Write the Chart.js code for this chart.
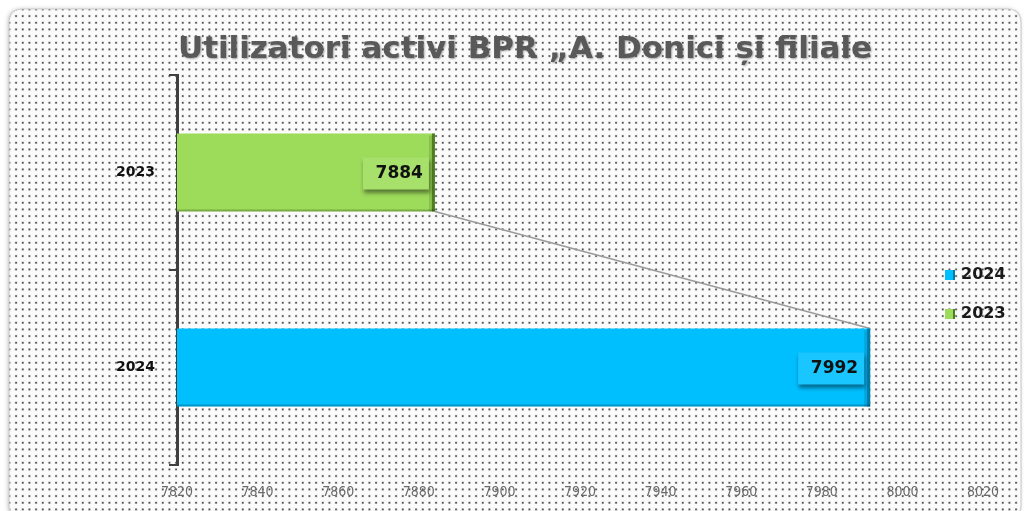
<!DOCTYPE html>
<html><head><meta charset="utf-8">
<script src="https://cdn.jsdelivr.net/npm/chart.js@4.4.1/dist/chart.umd.min.js"></script>
<style>html,body{margin:0;padding:0;background:#fff;}#wrap{width:1029px;height:511px;position:relative;}</style>
</head><body><div id="wrap"><canvas id="c" width="1029" height="511"></canvas></div>
<script>
const chartTitle = 'Utilizatori activi BPR „A. Donici și filiale';
const categories = ['2023', '2024'];
const seriesNames = ['2024', '2023'];
const values2024 = [null, 7992];
const values2023 = [7884, null];
const xTicks = [7820, 7840, 7860, 7880, 7900, 7920, 7940, 7960, 7980, 8000, 8020];
const colors = {'2024': '#00bfff', '2023': '#9ddb5b'};
const darkEdge = {'2024': '#007aa6', '2023': '#4f7d22'};
const labelBox = {'2024': '#1ac6ff', '2023': '#a8e06c'};

function makePattern(ctx){
  const t = document.createElement('canvas'); t.width = 20; t.height = 20;
  const g = t.getContext('2d');
  g.fillStyle = '#fbfbfb'; g.fillRect(0,0,20,20);
  for (let i=0;i<3;i++) for (let j=0;j<3;j++){
    const x = i*20/3+2, y = j*20/3+2;
    g.fillStyle = 'rgba(110,110,110,0.35)'; g.fillRect(x-0.5,y-0.5,2.5,2.5);
    g.fillStyle = '#4a4a4a'; g.fillRect(x,y,1.5,1.5);
  }
  return ctx.createPattern(t,'repeat');
}
function rr(ctx,x,y,w,h,r){ctx.beginPath();ctx.moveTo(x+r,y);ctx.lineTo(x+w-r,y);ctx.quadraticCurveTo(x+w,y,x+w,y+r);ctx.lineTo(x+w,y+h-r);ctx.quadraticCurveTo(x+w,y+h,x+w-r,y+h);ctx.lineTo(x+r,y+h);ctx.quadraticCurveTo(x,y+h,x,y+h-r);ctx.lineTo(x,y+r);ctx.quadraticCurveTo(x,y,x+r,y);ctx.closePath();}

const bgPlugin = {
  id:'bg',
  beforeDraw(chart){
    const ctx = chart.ctx;
    ctx.save();
    ctx.fillStyle = '#fff'; ctx.fillRect(0,0,chart.width,chart.height);
    ctx.shadowColor = 'rgba(0,0,0,0.25)'; ctx.shadowBlur = 4; ctx.shadowOffsetX = -1; ctx.shadowOffsetY = 0;
    rr(ctx,9,9,1012,510,14);
    ctx.fillStyle = makePattern(ctx); ctx.fill();
    ctx.shadowColor='transparent';
    ctx.strokeStyle = '#cfcfcf'; ctx.lineWidth = 1.2; ctx.stroke();
    // title
    ctx.font = 'bold 28px "DejaVu Sans Condensed", "DejaVu Sans", sans-serif';
    const w = ctx.measureText(chartTitle).width;
    const target = 694;
    ctx.translate(525, 50);
    ctx.scale(target / w, 1.08);
    ctx.textAlign = 'center'; ctx.textBaseline = 'middle';
    ctx.shadowColor = 'rgba(0,0,0,0.35)'; ctx.shadowBlur = 2; ctx.shadowOffsetX = 1; ctx.shadowOffsetY = 1;
    ctx.fillStyle = '#595959';
    ctx.fillText(chartTitle, 0, 0);
    ctx.restore();
  },
  beforeDatasetsDraw(chart){
    const ctx = chart.ctx;
    const m23 = chart.getDatasetMeta(1).data[0];
    const m24 = chart.getDatasetMeta(0).data[1];
    if (!m23 || !m24) return;
    ctx.save();
    ctx.strokeStyle = '#9a9a9a'; ctx.lineWidth = 1.5;
    ctx.beginPath();
    ctx.moveTo(m23.x, m23.y + m23.height/2);
    ctx.lineTo(m24.x, m24.y - m24.height/2);
    ctx.stroke();
    ctx.restore();
  },
  afterDatasetsDraw(chart){
    const ctx = chart.ctx;
    const left = chart.chartArea.left;
    chart.data.datasets.forEach((ds, di) => {
      const meta = chart.getDatasetMeta(di);
      meta.data.forEach((bar, i) => {
        const v = ds.data[i];
        if (v === null) return;
        const name = ds.label;
        const top = bar.y - bar.height/2, h = bar.height;
        ctx.save();
        ctx.fillStyle = darkEdge[name];
        ctx.fillRect(bar.x - 3, top, 3, h);
        ctx.fillStyle = 'rgba(0,0,0,0.12)';
        ctx.fillRect(bar.x - 6, top + 2, 3, h - 2);
        ctx.fillStyle = 'rgba(0,0,0,0.22)';
        ctx.fillRect(left, top + h - 2, bar.x - left, 2);
        const bw = 66, bh = 32;
        const bx = bar.x - 6 - bw, by = bar.y - bh/2 + 1;
        ctx.shadowColor = 'rgba(0,0,0,0.45)'; ctx.shadowBlur = 4; ctx.shadowOffsetX = 1; ctx.shadowOffsetY = 3;
        ctx.fillStyle = labelBox[name];
        ctx.fillRect(bx, by, bw, bh);
        ctx.shadowColor = 'transparent';
        ctx.fillStyle = '#111';
        ctx.font = 'bold 17px "DejaVu Sans", sans-serif';
        ctx.textAlign = 'right'; ctx.textBaseline = 'middle';
        ctx.fillText(String(v), bar.x - 12, bar.y + 1);
        ctx.restore();
      });
    });
    ctx.save();
    const items = [{n:'2024', y:275}, {n:'2023', y:314}];
    items.forEach(it => {
      ctx.fillStyle = colors[it.n];
      ctx.fillRect(945, it.y - 5, 10, 10);
      ctx.fillStyle = darkEdge[it.n];
      ctx.fillRect(953, it.y - 5, 2, 10);
      ctx.fillStyle = '#1a1a1a';
      ctx.font = 'bold 16px "DejaVu Sans", sans-serif';
      ctx.textAlign = 'left'; ctx.textBaseline = 'middle';
      ctx.fillText(it.n, 961, it.y);
    });
    ctx.restore();
  }
};

new Chart(document.getElementById('c'), {
  type: 'bar',
  data: {
    labels: categories,
    datasets: [
      {label: seriesNames[0], data: values2024, backgroundColor: colors['2024'], borderWidth: 0, categoryPercentage: 1, barPercentage: 0.4},
      {label: seriesNames[1], data: values2023, backgroundColor: colors['2023'], borderWidth: 0, categoryPercentage: 1, barPercentage: 0.4}
    ]
  },
  options: {
    indexAxis: 'y',
    responsive: false,
    animation: false,
    layout: {padding: {left: 0, right: 46, top: 75, bottom: 0}},
    plugins: {legend: {display: false}, title: {display: false}, tooltip: {enabled: false}},
    scales: {
      x: {
        stacked: true, min: 7820, max: 8020,
        afterBuildTicks(scale){ scale.ticks = xTicks.map(v => ({value: v})); },
        afterFit(scale){ scale.height = 46; },
        grid: {display: false, drawTicks: false},
        border: {display: false},
        ticks: {padding: 19, color: '#6a6a6a', callback: v => String(v), font: {family: '"DejaVu Sans Condensed", "DejaVu Sans", sans-serif', size: 14}}
      },
      y: {
        stacked: true,
        afterFit(scale){ scale.width = 177; },
        grid: {offset: true, drawOnChartArea: false, tickLength: 8, color: '#404040', lineWidth: 2},
        border: {display: true, color: '#404040', width: 3},
        ticks: {padding: 14, color: '#111', font: {family: '"DejaVu Sans", sans-serif', size: 14, weight: 'bold'}}
      }
    }
  },
  plugins: [bgPlugin]
});
</script></body></html>
